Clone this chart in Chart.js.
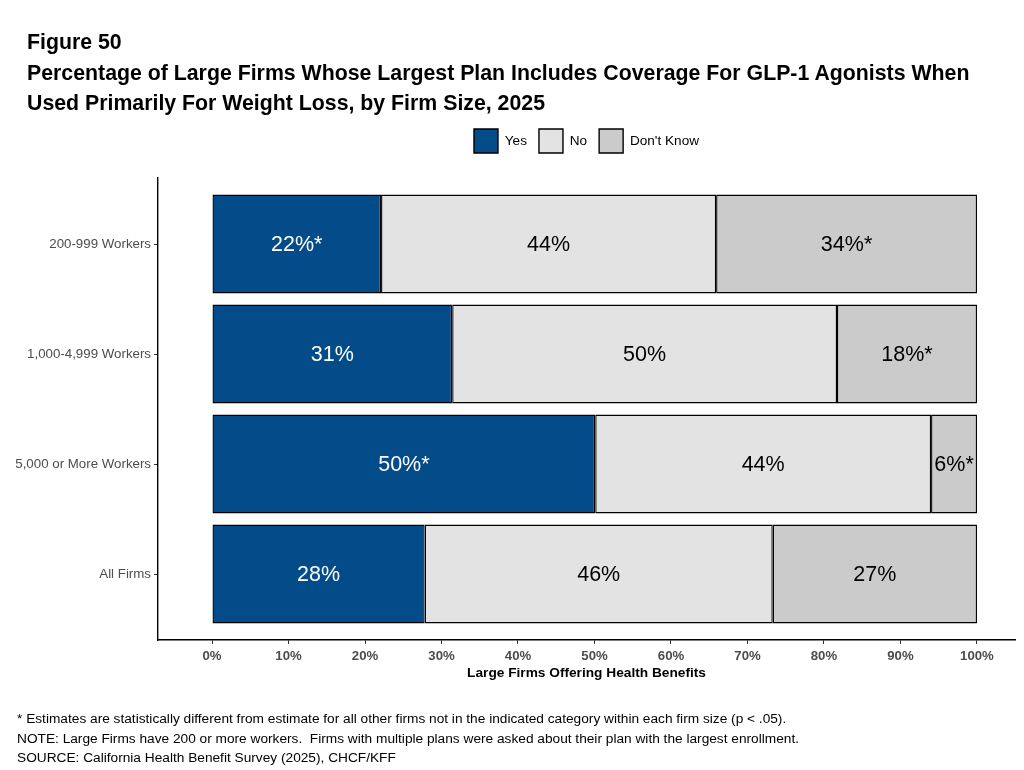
<!DOCTYPE html>
<html>
<head>
<meta charset="utf-8">
<script src="https://cdn.jsdelivr.net/npm/chart.js@4.4.1/dist/chart.umd.min.js"></script>
<style>
  body { margin: 0; background: #fff; font-family: "Liberation Sans", Arial, sans-serif; }
  #wrap { position: relative; width: 1024px; height: 770px; }
  #chart { position: absolute; left: 0; top: 0; }
  .title { position: absolute; left: 27px; top: 27px; font-size: 21.3px; font-weight: bold; line-height: 30.5px; color: #000; }
  .notes { position: absolute; left: 17px; top: 709px; font-size: 13.7px; line-height: 19.5px; color: #000; }
</style>
</head>
<body>
<div id="wrap">
  <canvas id="chart" width="1024" height="770"></canvas>
  <div class="title">Figure 50<br>Percentage of Large Firms Whose Largest Plan Includes Coverage For GLP-1 Agonists When<br>Used Primarily For Weight Loss, by Firm Size, 2025</div>
  <div class="notes">* Estimates are statistically different from estimate for all other firms not in the indicated category within each firm size (p &lt; .05).<br>NOTE: Large Firms have 200 or more workers.&nbsp; Firms with multiple plans were asked about their plan with the largest enrollment.<br>SOURCE: California Health Benefit Survey (2025), CHCF/KFF</div>
</div>
<script>
// categories top to bottom
const categories = ["200-999 Workers", "1,000-4,999 Workers", "5,000 or More Workers", "All Firms"];

// shares
const yesValues = [22.1, 31.4, 50.1, 27.8];
const noValues = [43.8, 50.3, 43.9, 45.5];
const dontKnowValues = [34.1, 18.3, 6.0, 26.7];

// printed labels
const yesLabels = ["22%*", "31%", "50%*", "28%"];
const noLabels = ["44%", "50%", "44%", "46%"];
const dontKnowLabels = ["34%*", "18%*", "6%*", "27%"];

const xTicks = [0, 10, 20, 30, 40, 50, 60, 70, 80, 90, 100];

const FONT = '"Liberation Sans", Arial, sans-serif';

function points(values) {
    return values.map(function(v, i){ return {x: v, y: i + 1}; });
}

function series(label, values, labels, fill, textColor) {
    return {
        label: label, data: points(values), labels: labels, labelColor: textColor,
        xAxisID: "x", yAxisID: "y",
        backgroundColor: fill, borderColor: "#000", borderWidth: 1.4, borderSkipped: false
    };
}

// draws the percent text in the middle of each segment
const barLabels = {
    id: "barLabels",
    afterDatasetsDraw(chart) {
        const ctx = chart.ctx;
        ctx.save();
        ctx.font = "21.5px " + FONT;
        ctx.textAlign = "center";
        ctx.textBaseline = "middle";
        chart.data.datasets.forEach(function(ds, di){
            const meta = chart.getDatasetMeta(di);
            meta.data.forEach(function(el, i){
                ctx.fillStyle = ds.labelColor;
                ctx.fillText(ds.labels[i], (el.x + el.base) / 2, el.y + 1);
            });
        });
        ctx.restore();
    }
};

new Chart(document.getElementById("chart"), {
    type: "bar",
    data: {
        datasets: [
            series("Yes", yesValues, yesLabels, "#034c89", "#ffffff"),
            series("No", noValues, noLabels, "#e3e3e3", "#000000"),
            series("Don't Know", dontKnowValues, dontKnowLabels, "#cbcbcb", "#000000")
        ]
    },
    options: {
        indexAxis: "y",
        responsive: false,
        animation: false,
        barPercentage: 0.9,
        categoryPercentage: 1,
        layout: { padding: { top: 117, right: 9, bottom: 89, left: 0 } },
        plugins: {
            tooltip: { enabled: false },
            legend: {
                position: "top",
                fullSize: false,
                labels: {
                    boxWidth: 24, boxHeight: 24, padding: 12, color: "#000",
                    font: { family: FONT, size: 13.6 }
                }
            }
        },
        scales: {
            x: {
                type: "linear", stacked: true, min: -7.06, max: 104.97,
                afterBuildTicks: function(scale){ scale.ticks = xTicks.map(function(v){ return {value: v}; }); },
                afterFit: function(scale){ scale.height = 41; },
                border: { color: "#000", width: 1.4 },
                grid: { drawOnChartArea: false, drawTicks: true, tickLength: 4, tickColor: "#333" },
                ticks: {
                    color: "#4d4d4d", padding: 4,
                    font: { family: FONT, size: 13.2, weight: "bold" },
                    callback: function(v){ return v + "%"; }
                },
                title: {
                    display: true, text: "Large Firms Offering Health Benefits", color: "#000", padding: 0,
                    font: { family: FONT, size: 13.7, weight: "bold" }
                }
            },
            // empty top axis, only keeps the gap under the legend
            gap: {
                type: "linear", axis: "x", position: "top", display: true, min: 0, max: 1,
                afterFit: function(scale){ scale.height = 15; },
                border: { display: false },
                grid: { display: false },
                ticks: { display: false }
            },
            y: {
                type: "linear", stacked: true, reverse: true, min: 0.4, max: 4.6,
                offset: false,
                afterBuildTicks: function(scale){ scale.ticks = categories.map(function(c, i){ return {value: i + 1}; }); },
                afterFit: function(scale){ scale.width = 158; },
                border: { color: "#000", width: 1.4 },
                grid: { offset: false, drawOnChartArea: false, drawTicks: true, tickLength: 4, tickColor: "#333" },
                ticks: {
                    color: "#4d4d4d", padding: 3,
                    font: { family: FONT, size: 13.3 },
                    callback: function(v){ return categories[v - 1]; }
                }
            }
        }
    },
    plugins: [barLabels]
});
</script>
</body>
</html>
